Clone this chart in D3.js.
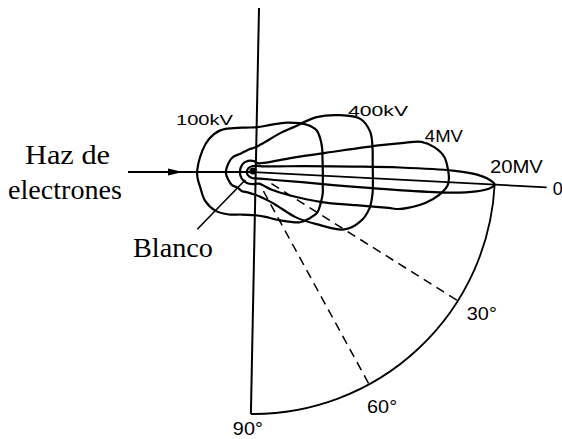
<!DOCTYPE html>
<html>
<head>
<meta charset="utf-8">
<script src="https://cdn.jsdelivr.net/npm/d3@7"></script>
<style>
  html, body { margin: 0; padding: 0; background: #fff; }
  svg { display: block; }
</style>
</head>
<body>
<script>
// Angular distribution of X-rays produced around a thin target.
// Angle: degrees from the electron-beam direction (positive = below the axis).
// Radius: relative intensity, % of the 20 MV forward maximum.

const energies = ["100kV", "400kV", "4MV", "20MV"];

const dist100kV = [[-165,22.7],[-150,22.7],[-135,21.9],[-120,19.8],[-105,18.6],[-90,18.6],[-75,20.7],
  [-60,24.8],[-45,29.8],[-37.5,31.4],[-30,31],[-22.5,30.2],[-15,29.3],[-7.5,28.9],[0,28.9],[7.5,29.3],
  [15,30.2],[22.5,30.8],[30,31.4],[37.5,30.2],[45,28.5],[60,22.7],[75,19],[90,17.8],[105,18.2],
  [120,20.2],[135,22.3],[150,23.1],[165,22.7],[180,23.1]];

const dist400kV = [[-165,10.7],[-150,10.3],[-135,9.3],[-120,9.1],[-105,9.5],[-90,10.3],[-75,12.8],
  [-60,19.4],[-52.5,24.8],[-45,34.7],[-37.5,42.6],[-30,49.6],[-22.5,51.2],[-15,50.4],[-7.5,49.6],
  [0,49.6],[7.5,50.2],[15,50.4],[22.5,48.8],[30,44.6],[37.5,33.9],[45,25.6],[52.5,17.4],[60,13.6],
  [75,10.3],[90,9.1],[105,8.7],[120,9.1],[135,9.1],[150,10.3],[165,10.7],[180,11.2]];

const dist4MV = [[-150,5.4],[-120,5],[-90,4.5],[-68,4.1],[-40,6.6],[-24,16.5],[-17.8,33.5],
  [-15.3,54.1],[-14.4,62.6],[-13.5,70.7],[-11.1,75.6],[-7.7,79.3],[-3.7,80.6],[-1.2,81],[1,80.6],
  [4.1,77.5],[7.4,72.3],[10.3,65.7],[11.6,62],[12.2,57.9],[15.3,44.6],[21.2,31],[30.5,17.8],
  [41.6,10.7],[62,5.4],[90,5],[120,5.2],[150,5.4],[180,5.4]];

const dist20MV = [[-150,2.5],[-100,2.5],[-65,2.9],[-32,5],[-16,10.7],[-10,20.7],[-6.3,41.3],
  [-4.9,60.7],[-3.5,82.6],[-2.4,92.6],[-1.1,97.9],[0,100],[1,97.9],[2,92.6],[3,82.6],[4.2,60.7],
  [5.6,41.3],[9,20.7],[16,10.7],[32,5],[65,2.9],[100,2.5],[150,2.5],[180,2.5]];

const distributions = [dist100kV, dist400kV, dist4MV, dist20MV];

// label anchors: [angle, radius] of each energy label (baseline start)
const energyLabelPos = [[-155.9,37.3], [-34.5,45.6], [-13.3,72.1], [-2.84,97.9]];

const angleTicks = [30, 60, 90];
const angleTickLabels = ["30°", "60°", "90°"];

// ---------------------------------------------------------------------------
const W = 562, H = 439;
const cx = 253, cy = 172;

const svg = d3.select("body").append("svg")
  .attr("width", W).attr("height", H)
  .attr("viewBox", `0 0 ${W} ${H}`);

const rScale = d3.scaleLinear().domain([0, 100]).range([0, 242]);
// beam-angle → drawing angle (deg, clockwise from +x)
const aScale = d3.scaleLinear().domain([0, 90]).range([3, 90.5]);
const rad = d => d * Math.PI / 180;
const pt = (a, r) => {
  const t = rad(aScale(a));
  return [cx + rScale(r) * Math.cos(t), cy + rScale(r) * Math.sin(t)];
};

const ink = "#000";
const g = svg.append("g").attr("transform", `translate(${cx},${cy})`);

// quarter-circle scale arc (0°–90°)
g.append("path")
  .attr("d", d3.arc()
    .innerRadius(rScale(100)).outerRadius(rScale(100))
    .startAngle(rad(aScale(0) + 90)).endAngle(rad(aScale(90) + 90))())
  .attr("fill", "none").attr("stroke", ink).attr("stroke-width", 1.8);

// dashed angle rays
angleTicks.filter(a => a < 90).forEach(a => {
  const p0 = pt(a, 9), p1 = pt(a, 100);
  svg.append("line")
    .attr("x1", p0[0]).attr("y1", p0[1]).attr("x2", p1[0]).attr("y2", p1[1])
    .attr("stroke", ink).attr("stroke-width", 1.5).attr("stroke-dasharray", "9,6");
});

// vertical reference line
{
  const pb = pt(90, 100);
  svg.append("line")
    .attr("x1", cx + 6).attr("y1", 8).attr("x2", pb[0]).attr("y2", pb[1])
    .attr("stroke", ink).attr("stroke-width", 2);
}

// beam axis: incoming electrons and forward direction
svg.append("line")
  .attr("x1", 128).attr("y1", cy).attr("x2", cx).attr("y2", cy)
  .attr("stroke", ink).attr("stroke-width", 2);
{
  const pf = pt(0, 121.5);
  svg.append("line")
    .attr("x1", cx).attr("y1", cy).attr("x2", pf[0]).attr("y2", pf[1])
    .attr("stroke", ink).attr("stroke-width", 1.8);
}
svg.append("path")
  .attr("d", `M168,${cy - 3.5} L183,${cy} L168,${cy + 3.5} Z`)
  .attr("fill", ink);

// intensity distributions
const radial = d3.lineRadial()
  .angle(d => rad(aScale(d[0]) + 90))
  .radius(d => rScale(d[1]))
  .curve(d3.curveCatmullRomClosed.alpha(0.5));

g.selectAll("path.dist")
  .data(distributions)
  .join("path")
  .attr("class", "dist")
  .attr("d", radial)
  .attr("fill", "none")
  .attr("stroke", ink)
  .attr("stroke-width", 2.2)
  .attr("stroke-linejoin", "round");

// target
svg.append("circle").attr("cx", cx).attr("cy", cy - 1).attr("r", 3.6).attr("fill", ink);

// leader to the target
{
  const p0 = pt(135, 4.5), p1 = pt(135, 33);
  svg.append("line")
    .attr("x1", p0[0]).attr("y1", p0[1]).attr("x2", p1[0]).attr("y2", p1[1])
    .attr("stroke", ink).attr("stroke-width", 1.6);
}

// energy labels
const energyFont = [14, 14, 17, 18];
const energyLen = [57, 60, 38, 53];
energies.forEach((e, i) => {
  const p = pt(energyLabelPos[i][0], energyLabelPos[i][1]);
  svg.append("text")
    .attr("x", p[0]).attr("y", p[1])
    .attr("font-family", "'Liberation Sans', Arial, Helvetica, sans-serif")
    .attr("font-size", energyFont[i])
    .attr("textLength", energyLen[i])
    .attr("lengthAdjust", "spacingAndGlyphs")
    .attr("fill", ink)
    .text(e);
});

// angle labels
const tickOffsets = [[9, 19], [-2, 29], [-18, 21]];
angleTicks.forEach((a, i) => {
  const p = pt(a, 100);
  svg.append("text")
    .attr("x", p[0] + tickOffsets[i][0]).attr("y", p[1] + tickOffsets[i][1])
    .attr("font-family", "'Liberation Sans', Arial, Helvetica, sans-serif")
    .attr("font-size", 18)
    .attr("textLength", 30)
    .attr("lengthAdjust", "spacingAndGlyphs")
    .attr("fill", ink)
    .text(angleTickLabels[i]);
});
{
  const p = pt(0, 121.5);
  svg.append("text")
    .attr("x", p[0] + 6).attr("y", p[1] + 8)
    .attr("font-family", "'Liberation Sans', Arial, Helvetica, sans-serif")
    .attr("font-size", 18)
    .attr("fill", ink)
    .text("0°");
}

// serif annotations
const serif = "'Liberation Serif', 'Times New Roman', Times, serif";
[["Haz de", 25, 164, 85], ["electrones", 8, 199, 114], ["Blanco", 133, 257, 80]].forEach(([t, x, y, len]) => {
  svg.append("text")
    .attr("x", x).attr("y", y)
    .attr("font-family", serif)
    .attr("font-size", 27)
    .attr("textLength", len)
    .attr("lengthAdjust", "spacingAndGlyphs")
    .attr("fill", ink)
    .text(t);
});
</script>
</body>
</html>
